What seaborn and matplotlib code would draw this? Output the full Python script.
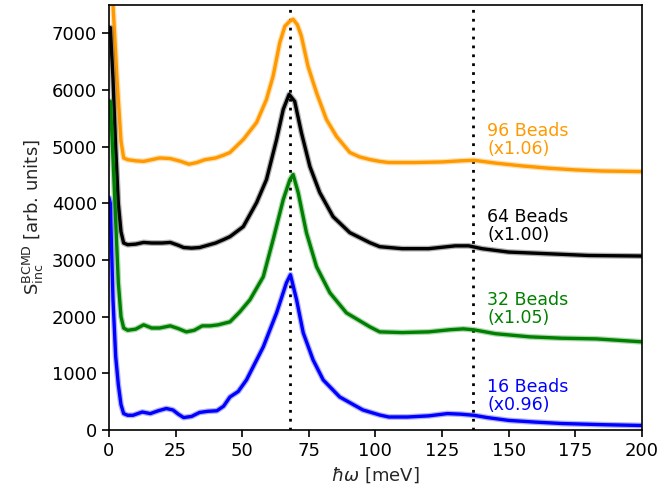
import matplotlib
matplotlib.use("Agg")
import matplotlib.pyplot as plt
import seaborn as sns
import pandas as pd

# Incoherent dynamic structure factor for chains of different bead counts
x_96 = [0, 1.5, 3, 4.5, 5.5, 7, 10, 13, 16, 19, 23, 27, 30, 33, 36, 40, 43, 45.4, 50.4,
        55.4, 59.1, 61.6, 64.1, 66, 67.8, 69.1, 70.7, 72.2, 74.7, 77.9, 81.6, 85.4, 90.4,
        94, 97.9, 101.6, 105, 115, 125, 132, 137, 145, 155, 165, 175, 185, 200]
s_96 = [9500, 7500, 6200, 5100, 4800, 4770, 4750, 4740, 4770, 4800, 4790, 4740, 4690,
        4720, 4770, 4800, 4850, 4897, 5126, 5427, 5833, 6246, 6835, 7124, 7210, 7248,
        7150, 6950, 6417, 5950, 5480, 5180, 4897, 4820, 4773, 4740, 4720, 4720, 4730,
        4750, 4760, 4710, 4660, 4620, 4590, 4570, 4560]

x_64 = [0, 0.5, 1.5, 2.5, 3.5, 4.5, 5.5, 7, 10, 13, 16, 20, 23, 26, 28, 31, 34, 37, 40,
        43, 45.4, 50.4, 55.4, 59.1, 62.9, 65.4, 67.6, 69.7, 72.2, 75.4, 79.1, 84.1, 90.4,
        97.9, 101.6, 110, 120, 130, 135, 140, 150, 165, 180, 200]
s_64 = [7100, 7100, 6200, 5000, 4000, 3500, 3300, 3270, 3280, 3310, 3300, 3300, 3310,
        3260, 3220, 3210, 3220, 3260, 3300, 3360, 3412, 3589, 4013, 4419, 5126, 5657,
        5922, 5798, 5250, 4649, 4190, 3765, 3482, 3306, 3235, 3200, 3200, 3250, 3250,
        3200, 3140, 3110, 3080, 3070]

x_32 = [0, 0.5, 1.5, 2.5, 3.5, 4.5, 5.5, 7, 10, 13, 16, 19, 23, 26, 29, 32, 35, 38, 41,
        45.4, 49, 52.9, 57.9, 61.6, 65.4, 67.9, 69.1, 71, 74.1, 77.9, 82.9, 89.1, 97.9,
        101.6, 110, 120, 128, 133, 137, 145, 158, 170, 183, 200]
s_32 = [5800, 5800, 4800, 3700, 2600, 2000, 1800, 1760, 1780, 1856, 1800, 1800, 1838,
        1790, 1732, 1760, 1838, 1838, 1856, 1909, 2080, 2298, 2705, 3359, 4066, 4419,
        4508, 4190, 3482, 2881, 2422, 2068, 1821, 1732, 1720, 1732, 1770, 1785, 1768,
        1700, 1644, 1620, 1608, 1556]

x_16 = [0, 0.5, 1.5, 2.5, 3.5, 4.5, 5.5, 7, 9, 12.5, 15.5, 18.5, 21.5, 24, 26, 28, 31,
        34, 37, 40.5, 43, 45.4, 48.5, 51.6, 57.9, 62.9, 66.6, 68.1, 70.4, 72.9, 76.6,
        80.4, 86.6, 95.3, 101.6, 105, 112, 120, 127, 132, 137, 142, 150, 160, 170, 185,
        200]
s_16 = [4100, 4000, 2300, 1300, 800, 450, 290, 260, 260, 318, 290, 340, 380, 354, 280,
        220, 240, 310, 330, 340, 420, 583, 680, 884, 1467, 2068, 2598, 2740, 2298, 1715,
        1237, 884, 583, 354, 265, 230, 230, 250, 290, 280, 260, 220, 170, 140, 115, 95,
        80]

series_names = ["96 Beads", "64 Beads", "32 Beads", "16 Beads"]
scale_labels = ["(x1.06)", "(x1.00)", "(x1.05)", "(x0.96)"]
series_colors = ["#FF9900", "black", "green", "blue"]
label_heights = [5118, 3606, 2139, 601]
mode_lines = [67.8, 136.6]

frames = []
for name, xs, ys in zip(series_names, [x_96, x_64, x_32, x_16], [s_96, s_64, s_32, s_16]):
    frames.append(pd.DataFrame({"omega": xs, "S": ys, "chain": name}))
data = pd.concat(frames, ignore_index=True)

sns.set_style("ticks")
plt.rcParams["font.family"] = ["DejaVu Sans"]
plt.rcParams["mathtext.fontset"] = "dejavusans"

fig = plt.figure(figsize=(6.59, 4.96), dpi=100)
ax = fig.add_axes([0.1654, 0.133, 0.8086, 0.857])

palette = dict(zip(series_names, series_colors))
for name in series_names:
    sub = data[data["chain"] == name]
    # faint halo under each trace
    sns.lineplot(data=sub, x="omega", y="S", color=palette[name], lw=4.2,
                 alpha=0.3, estimator=None, sort=False, ax=ax, legend=False)
    sns.lineplot(data=sub, x="omega", y="S", color=palette[name], lw=2.4,
                 estimator=None, sort=False, ax=ax, legend=False)

for xv in mode_lines:
    ax.axvline(xv, color="black", ls=(0, (1, 2.2)), lw=2.0, zorder=1)

for name, sc, col, yv in zip(series_names, scale_labels, series_colors, label_heights):
    ax.text(142, yv, f"{name}\n{sc}", color=col, fontsize=12.5, va="center",
            ha="left", linespacing=1.0)

ax.set_xlim(0, 200)
ax.set_ylim(0, 7500)
ax.set_xticks([0, 25, 50, 75, 100, 125, 150, 175, 200])
ax.set_yticks([0, 1000, 2000, 3000, 4000, 5000, 6000, 7000])
ax.tick_params(labelsize=13, length=5, width=1.2, direction="out", colors="black")
ax.set_xlabel(r"$\hbar\omega$ [meV]", fontsize=13)
ax.set_ylabel(r"$\mathrm{S}_{\mathrm{inc}}^{\mathrm{BCMD}}$ [arb. units]", fontsize=13)
for sp in ax.spines.values():
    sp.set_visible(True)
    sp.set_color("black")
    sp.set_linewidth(1.2)

fig.savefig("out.png", dpi=100)
